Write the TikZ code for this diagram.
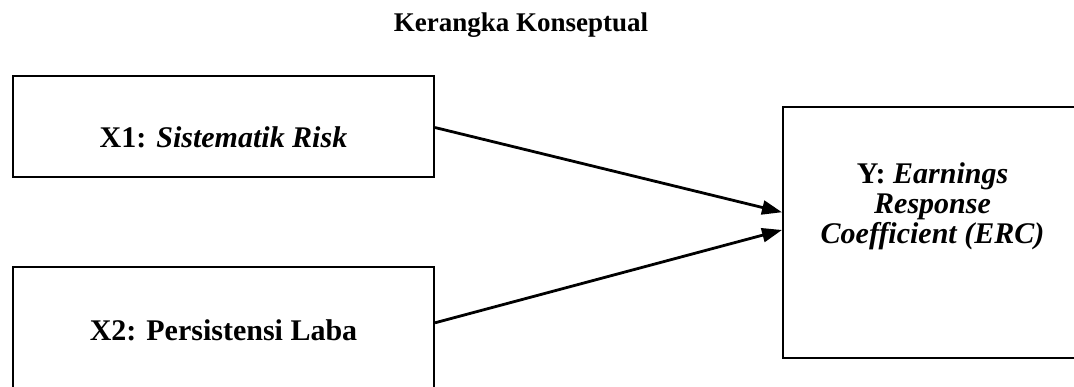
\documentclass[tikz,border=0pt]{standalone}
\usepackage{fontspec}
\setmainfont{Liberation Serif}
\usepackage{tikz}
\usetikzlibrary{calc}
\usetikzlibrary{arrows.meta}

\begin{document}
\begin{tikzpicture}[x=0.5pt,y=-0.5pt]
% % Styles
 \tikzset{
 	varbox/.style={draw, line width=1pt, inner sep=0pt},
 	vartext/.style={font=\bfseries\fontsize{15}{15}\selectfont, inner sep=0pt},
 	link/.style={line width=1.4pt, -{Triangle[length=10pt,width=7pt]}}
 }
 \clip (0,0) rectangle (1074,386);
% % Title
 \node[font=\bfseries\fontsize{13.5}{16}\selectfont, inner sep=0pt] (title) at (521,25) {Kerangka Konseptual};
% % Boxes
 \node[varbox, minimum width=210.5pt, minimum height=50.5pt] (x1) at (223.5,126.5) {};
 \node[vartext] (x1text) at ($(x1.center)+(0,11)$) {X1: \textit{Sistematik Risk}};
 \node[varbox, minimum width=210.5pt, minimum height=70pt] (x2) at (223.5,337) {};
 \node[vartext] (x2text) at ($(x2.center)+(0,-7)$) {X2: Persistensi Laba};
 \node[varbox, minimum width=153.5pt, minimum height=125.5pt] (y) at (936.5,232.5) {};
 \node[vartext, align=center, font=\bfseries\fontsize{15}{15}\selectfont] (ytext) at ($(y.center)+(-4,-26)$)
 	{Y: \textit{Earnings}\\ \textit{Response}\\ \textit{Coefficient (ERC)}};
% % Connectors
 \draw[link] ($(x1.north east)!0.51!(x1.south east)$) -- ($(y.north west)!0.42!(y.south west)$);
 \draw[link] ($(x2.north east)!0.4!(x2.south east)$) -- ($(y.north west)!0.49!(y.south west)$);
\end{tikzpicture}
\end{document}
